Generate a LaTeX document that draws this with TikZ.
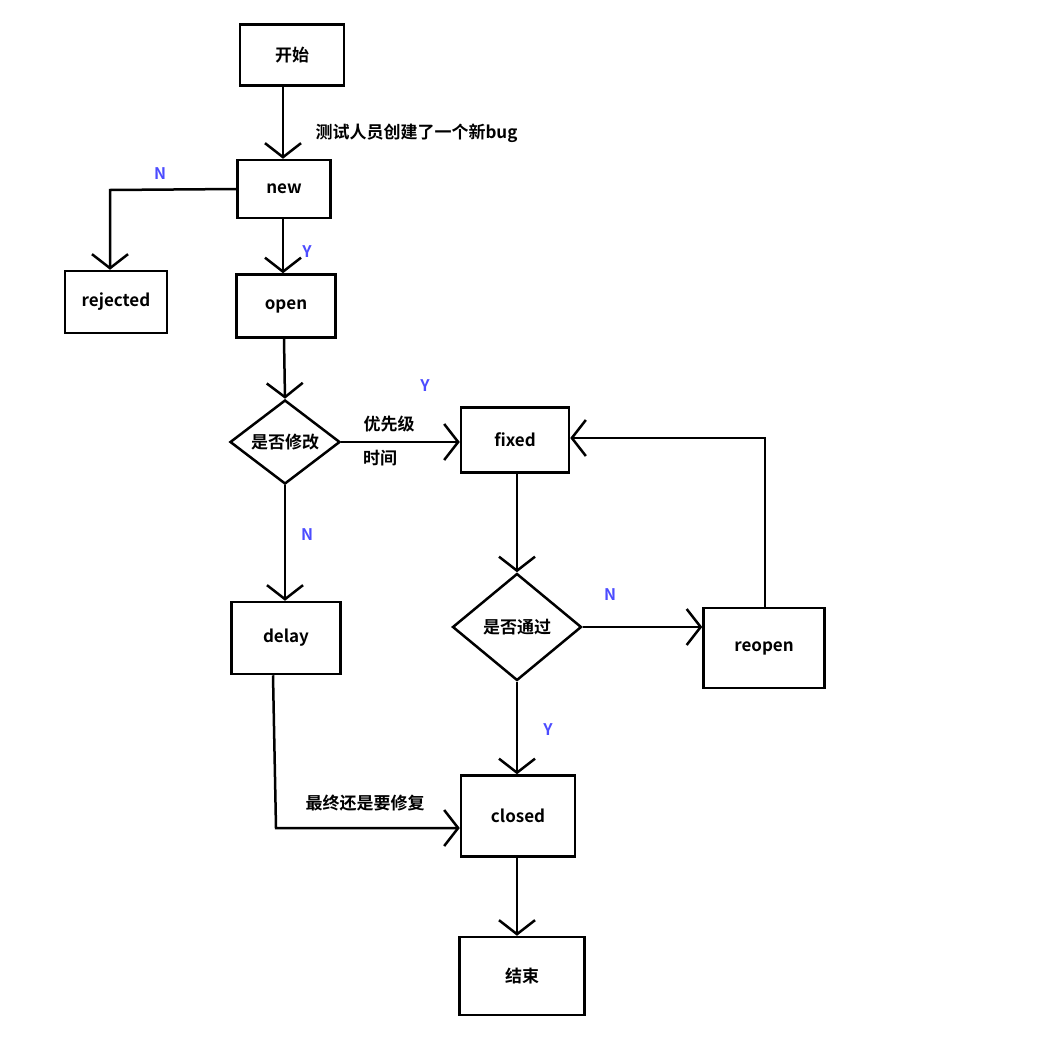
\documentclass[tikz,border=0pt]{standalone}
\usepackage{fontspec}
\setmainfont{Noto Sans CJK SC}[BoldFont={Noto Sans CJK SC Bold}]
\usetikzlibrary{arrows.meta,shapes.geometric}
\begin{document}
\begin{tikzpicture}[x=1pt,y=-1pt,
  box/.style={draw,line width=2.5pt,rectangle,inner sep=0pt,font=\bfseries\fontsize{17}{20}\selectfont},
  dia/.style={draw,line width=2.5pt,diamond,inner sep=0pt,font=\bfseries\fontsize{17}{20}\selectfont},
  arr/.style={line width=2.5pt,-{Straight Barb[length=14pt,width=36pt,line width=2.5pt]}},
  lab/.style={font=\bfseries\fontsize{17}{20}\selectfont},
  yn/.style={text=blue!70!white,font=\bfseries\fontsize{16}{18}\selectfont}]
\useasboundingbox (0,0) rectangle (1046,1055);
\node[box,minimum width=104pt,minimum height=61pt] (start) at (292,55) {开始};
\node[box,minimum width=93pt,minimum height=58pt] (new) at (284,189) {new};
\node[box,minimum width=102pt,minimum height=62pt] (rej) at (116,302) {rejected};
\node[box,minimum width=99pt,minimum height=63pt] (open) at (286,306) {open};
\node[dia,minimum width=110pt,minimum height=73pt] (d1) at (285,442) {是否修改};
\node[box,minimum width=108pt,minimum height=65pt] (fixed) at (515,440) {fixed};
\node[box,minimum width=109pt,minimum height=72pt] (delay) at (286,638) {delay};
\node[dia,minimum width=129pt,minimum height=107pt] (d2) at (517,627) {是否通过};
\node[box,minimum width=121pt,minimum height=80pt] (reopen) at (764,648) {reopen};
\node[box,minimum width=114pt,minimum height=81pt] (closed) at (518,816) {closed};
\node[box,minimum width=125pt,minimum height=78pt] (end) at (522,976) {结束};
\coordinate (c1) at (110,190);
\coordinate (c2) at (765,438);
\coordinate (c3) at (276,828);
\draw[arr] (start.south -| 283,0) -- (new.north -| 283,0);
\node[lab,anchor=west] (l0) at (312,133) {测试人员创建了一个新bug};
\draw[arr] (new.west) -- (c1) -- (rej.north -| c1);
\node[yn] (nN) at (160,174) {N};
\draw[arr] (new.south -| 283,0) -- (open.north -| 283,0);
\node[yn] (nY) at (307,252) {Y};
\draw[arr] (open.south -| 284,0) -- (d1.north);
\draw[arr] (d1.east) -- (fixed.west |- d1.east);
\node[lab] (l1) at (389,424) {优先级};
\node[lab] (l2) at (380,458) {时间};
\node[yn] (y2) at (425,386) {Y};
\draw[arr] (d1.south) -- (delay.north -| d1.south);
\node[yn] (n2) at (307,535) {N};
\draw[arr] (fixed.south -| d2.north) -- (d2.north);
\draw[arr] (d2.east) -- (reopen.west |- d2.east);
\node[yn] (n3) at (610,595) {N};
\draw[arr] (reopen.north -| c2) -- (c2) -- (fixed.east |- c2);
\draw[arr] (d2.south) -- (closed.north -| d2.south);
\node[yn] (y3) at (548,730) {Y};
\draw[arr] (delay.south -| 273,0) -- (c3) -- (closed.west |- c3);
\node[lab] (l3) at (365,803) {最终还是要修复};
\draw[arr] (closed.south -| 517,0) -- (end.north -| 517,0);
\end{tikzpicture}
\end{document}
